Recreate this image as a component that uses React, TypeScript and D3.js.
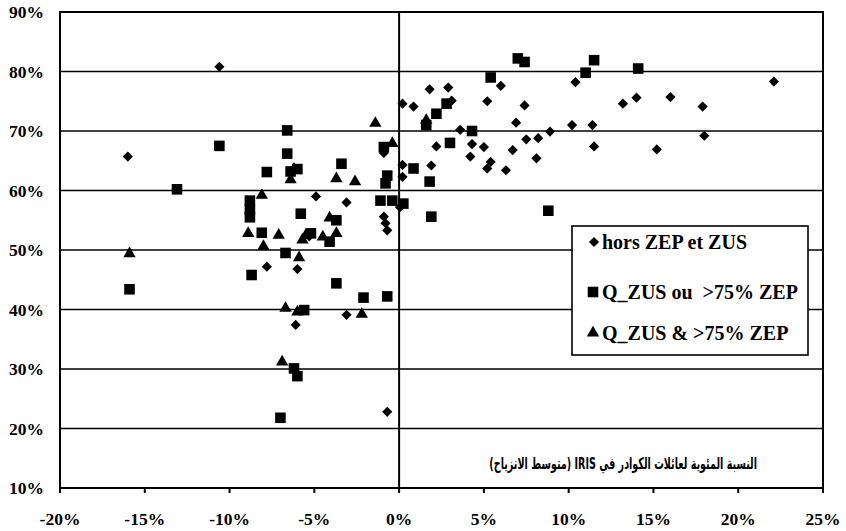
import * as d3 from 'd3'

// values in percent
const horsX = [-16, -10.6, -7.8, -6.0, -6.1, -5.3, -4.9, -3.1, -3.1, -0.9, -0.8, -0.7, -0.9, -0.7, 0.05, 0.2, 0.2, 0.2, 0.85, 1.8, 1.9, 2.2, 2.9, 3.1, 3.6, 4.2, 4.3, 5.0, 5.2, 5.2, 5.4, 6.0, 6.3, 6.7, 6.9, 7.4, 7.5, 8.1, 8.2, 8.9, 10.2, 10.4, 11.4, 11.5, 13.2, 14.0, 15.2, 16.0, 17.9, 18.0, 22.1]
const horsY = [65.7, 80.8, 47.2, 46.8, 37.4, 52.3, 59.0, 58.0, 39.1, 55.6, 54.5, 53.3, 66.3, 22.8, 57.2, 64.3, 62.3, 74.6, 74.1, 77.0, 64.2, 67.4, 77.3, 75.1, 70.2, 65.7, 67.8, 67.3, 75.0, 63.7, 64.8, 77.6, 63.4, 66.8, 71.4, 74.3, 68.6, 65.4, 68.8, 69.9, 71.0, 78.2, 71.0, 67.4, 74.6, 75.6, 66.9, 75.7, 74.1, 69.2, 78.3]

const zusOuX = [-15.9, -13.1, -10.6, -8.8, -8.8, -8.8, -8.7, -8.1, -7.8, -7.0, -6.6, -6.6, -6.7, -6.4, -6.0, -6.2, -6.0, -5.8, -5.6, -5.2, -4.1, -3.7, -3.7, -3.4, -2.1, -0.9, -0.7, -0.8, -1.1, -0.4, -0.7, 0.25, 0.85, 1.6, 1.8, 1.9, 2.2, 2.8, 3.0, 4.3, 5.4, 7.0, 7.4, 8.8, 11.0, 11.5, 14.1]
const zusOuY = [43.4, 60.2, 67.5, 58.3, 56.8, 55.5, 45.8, 52.9, 63.1, 21.8, 70.1, 66.2, 49.5, 63.2, 63.6, 30.1, 28.8, 56.1, 39.9, 52.8, 51.4, 55.0, 44.4, 64.5, 42.0, 67.3, 62.5, 61.2, 58.3, 58.3, 42.2, 57.8, 63.7, 71.0, 61.5, 55.6, 72.9, 74.6, 68.0, 70.0, 79.0, 82.2, 81.6, 56.6, 79.8, 81.9, 80.5]

const zusEtX = [-15.9, -8.9, -8.1, -8.0, -7.1, -6.9, -6.7, -6.4, -6.2, -6.0, -5.9, -5.7, -5.5, -4.5, -4.1, -3.7, -3.7, -2.6, -2.2, -1.4, -0.4, 1.6]
const zusEtY = [49.4, 52.8, 59.2, 50.6, 52.5, 31.2, 40.2, 61.8, 63.6, 39.6, 48.7, 51.7, 52.5, 52.2, 55.4, 52.8, 62.0, 61.5, 39.2, 71.3, 67.9, 71.8]

const xTicks = [-20, -15, -10, -5, 0, 5, 10, 15, 20, 25]
const yTicks = [10, 20, 30, 40, 50, 60, 70, 80, 90]
const legendLabels = ['hors ZEP et ZUS', 'Q_ZUS ou  >75% ZEP', 'Q_ZUS & >75% ZEP']
const axisTitle = 'النسبة المئوية لعائلات الكوادر في IRIS (متوسط الانزياح)'

const W = 846
const H = 531
const left = 60
const right = 823
const top = 12
const bottom = 488

const x = d3.scaleLinear().domain([-20, 25]).range([left, right])
const y = d3.scaleLinear().domain([10, 90]).range([bottom, top])

const diamond = d3.symbol().type(d3.symbolSquare).size(52)()
const square = d3.symbol().type(d3.symbolSquare).size(112)()
const triangle = d3.symbol().type(d3.symbolTriangle).size(66)()

const serif = 'Liberation Serif'

function Marks({ xs, ys, path, rotate }: { xs: number[]; ys: number[]; path: string | null; rotate?: number }) {
  return (
    <g>
      {xs.map((v, i) => (
        <path
          key={i}
          d={path ?? ''}
          fill="#000"
          transform={`translate(${x(v)},${y(ys[i])})${rotate ? ` rotate(${rotate})` : ''}`}
        />
      ))}
    </g>
  )
}

export default function App() {
  const legendY = [242, 292, 333]
  return (
    <svg width={W} height={H} style={{ position: 'absolute', left: 0, top: 0, background: '#fff' }}>
      <rect x={0} y={0} width={W} height={H} fill="#fff" />
      {/* horizontal grid */}
      {yTicks.slice(1, -1).map(t => (
        <line key={t} x1={left} x2={right} y1={y(t)} y2={y(t)} stroke="#000" strokeWidth={1.6} />
      ))}
      {/* zero line */}
      <line x1={x(0)} x2={x(0)} y1={top} y2={bottom} stroke="#000" strokeWidth={2} />
      {/* frame */}
      <rect x={left} y={top} width={right - left} height={bottom - top} fill="none" stroke="#000" strokeWidth={2} />
      {/* x ticks */}
      {xTicks.map(t => (
        <line key={t} x1={x(t)} x2={x(t)} y1={bottom} y2={bottom + 5} stroke="#000" strokeWidth={2} />
      ))}
      {xTicks.map(t => (
        <text key={t} x={x(t)} y={525} textAnchor="middle" fontFamily={serif} fontWeight="bold" fontSize={17.5}>
          {t}%
        </text>
      ))}
      {yTicks.map(t => (
        <text key={t} x={44} y={y(t)} dy="0.35em" textAnchor="end" fontFamily={serif} fontWeight="bold" fontSize={17.5}>
          {t}%
        </text>
      ))}

      {/* Arabic axis caption, squeezed horizontally like the original typeface */}
      <g transform="translate(757,469) scale(0.6,1)">
        <text
          x={0}
          y={0}
          textAnchor="start"
          fontFamily="DejaVu Sans"
          fontWeight="bold"
          fontSize={16}
          style={{ direction: 'rtl', unicodeBidi: 'embed' }}
        >
          {axisTitle}
        </text>
      </g>

      <Marks xs={horsX} ys={horsY} path={diamond} rotate={45} />
      <Marks xs={zusOuX} ys={zusOuY} path={square} />
      <Marks xs={zusEtX} ys={zusEtY} path={triangle} />

      {/* legend */}
      <rect x={572} y={226} width={236} height={129} fill="#fff" stroke="#000" strokeWidth={1.6} />
      <path d={diamond ?? ''} transform={`translate(594,${legendY[0]}) rotate(45)`} fill="#000" />
      <path d={square ?? ''} transform={`translate(593,${legendY[1]})`} fill="#000" />
      <path d={triangle ?? ''} transform={`translate(593,${legendY[2]})`} fill="#000" />
      {legendLabels.map((l, i) => (
        <text
          key={l}
          x={602}
          y={legendY[i]}
          dy="0.35em"
          fontFamily={serif}
          fontWeight="bold"
          fontSize={20}
          style={{ whiteSpace: 'pre' }}
        >
          {l}
        </text>
      ))}
    </svg>
  )
}
